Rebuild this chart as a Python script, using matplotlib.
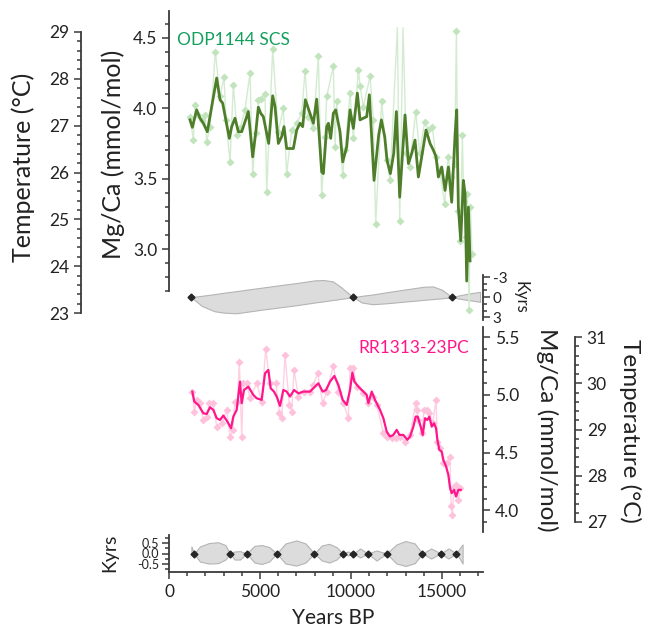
import numpy as np
import matplotlib
matplotlib.use('Agg')
import matplotlib.pyplot as plt
from matplotlib.ticker import FixedLocator, FixedFormatter

# ---------------- data ----------------
# ODP1144 SCS smoothed Mg/Ca (dark green)
odp_yr = [1154, 1282, 1520, 1703, 1886, 2106, 2345, 2619, 2802, 2948,
          3315, 3443, 3626, 3810, 3993, 4359, 4597, 4780, 4908, 5037,
          5183, 5476, 5696, 5824, 6007, 6190, 6319, 6465, 6648, 6832,
          7015, 7198, 7344, 7491, 7930, 8113, 8388, 8480, 8663, 8755,
          8883, 9029, 9157, 9395, 9542, 9762, 9945, 10128, 10348, 10495,
          10678, 10861, 11007, 11264, 11520, 11667, 11850, 11978, 12161, 12344,
          12491, 12674, 12967, 13150, 13333, 13516, 13700, 13883, 14121, 14341,
          14524, 14670, 14799, 14982, 15165, 15348, 15531, 15714, 15806, 15897,
          16026, 16172, 16264, 16355, 16447, 16538]
odp_mg = [3.917, 3.864, 3.988, 3.929, 3.893, 3.833, 4.01, 4.214, 4.06, 4.036,
          3.786, 3.869, 3.929, 3.833, 3.833, 3.976, 3.655, 3.845, 4.007, 3.964,
          3.94, 3.75, 4.088, 4.012, 3.75, 3.798, 3.869, 3.714, 3.714, 3.714,
          3.845, 3.893, 3.869, 4.06, 3.893, 4.064, 3.548, 3.536, 3.869, 3.893,
          3.786, 3.964, 3.988, 3.833, 3.619, 3.726, 3.988, 3.857, 4.107, 3.917,
          3.929, 3.94, 4.095, 3.488, 3.81, 3.917, 3.798, 3.631, 3.536, 3.679,
          3.976, 3.369, 3.952, 3.607, 3.679, 3.774, 3.512, 3.655, 3.845, 3.75,
          3.702, 3.655, 3.512, 3.583, 3.417, 3.583, 3.333, 3.81, 3.988, 3.298,
          3.06, 3.488, 3.393, 2.774, 3.298, 2.917]

# ODP1144 SCS raw Mg/Ca (light green)
odp_raw_yr = [1154, 1337, 1429, 1612, 1795, 1978, 2070, 2253, 2546, 2802,
              3022, 3132, 3352, 3535, 3755, 3901, 4176, 4451, 4597, 4780,
              4908, 5037, 5275, 5366, 5696, 6007, 6282, 6465, 6740, 7015,
              7289, 7473, 7656, 7930, 8205, 8388, 8571, 8663, 9029, 9121,
              9212, 9542, 9670, 9945, 10128, 10403, 10495, 10678, 11044, 11227,
              11355, 11685, 11960, 12143, 12546, 12674, 12857, 13040, 13223, 13553,
              13773, 14048, 14231, 14469, 14652, 14872, 15147, 15330, 15513, 15696,
              15788, 15879, 16007, 16117, 16190, 16300, 16392, 16484, 16557, 16648]
odp_raw_mg = [3.94, 3.774, 4.024, 3.952, 3.917, 3.952, 3.762, 3.869, 4.40, 4.083,
              4.221, 3.917, 3.619, 4.167, 3.81, 3.857, 3.988, 4.25, 3.536, 3.821,
              4.06, 4.064, 4.102, 3.405, 4.417, 3.833, 4.0, 3.536, 3.845, 3.893,
              3.964, 4.262, 3.94, 3.857, 4.369, 3.381, 3.798, 4.083, 4.298, 3.726,
              4.048, 3.524, 3.702, 4.107, 3.786, 4.274, 4.155, 4.012, 4.226, 3.917,
              3.179, 4.048, 3.631, 3.488, 5.0, 3.202, 5.0, 3.679, 3.583, 3.976,
              3.679, 3.905, 3.845, 3.869, 3.655, 3.56, 3.321, 3.655, 3.512, 3.607,
              4.548, 3.274, 3.06, 3.81, 3.345, 3.083, 3.393, 2.57, 3.298, 2.964]

# RR1313-23PC smoothed Mg/Ca (dark pink)
rr_yr = [1282, 1392, 1612, 1886, 2070, 2253, 2436, 2619, 2802, 2985,
         3205, 3407, 3535, 3718, 3901, 3993, 4121, 4359, 4634, 4817,
         5092, 5275, 5458, 5586, 5769, 5916, 6099, 6282, 6465, 6648,
         6868, 7106, 7381, 7747, 7930, 8205, 8443, 8626, 8846, 9084,
         9304, 9542, 9762, 9945, 10073, 10183, 10403, 10678, 10861, 10952,
         11136, 11319, 11594, 11777, 11960, 12143, 12326, 12509, 12656, 12875,
         13095, 13242, 13425, 13553, 13663, 13828, 13938, 14066, 14194, 14304,
         14432, 14561, 14670, 14744, 14853, 14982, 15073, 15220, 15348, 15440,
         15531, 15659, 15769, 15897, 16026]
rr_mg = [5.029, 4.942, 4.913, 4.841, 4.835, 4.893, 4.87, 4.798, 4.783, 4.821,
         4.769, 4.711, 4.812, 4.87, 5.116, 4.928, 5.043, 5.072, 5.0, 4.971,
         4.957, 5.188, 5.217, 5.058, 5.029, 4.986, 4.905, 5.043, 5.029, 4.986,
         5.043, 5.014, 5.029, 5.029, 5.058, 5.101, 5.029, 5.043, 5.116, 5.165,
         5.087, 4.957, 4.913, 5.043, 5.194, 5.116, 5.072, 5.029, 5.0, 4.928,
         5.029, 4.957, 4.87, 4.798, 4.682, 4.639, 4.653, 4.697, 4.653, 4.653,
         4.61, 4.639, 4.725, 4.812, 4.812, 4.725, 4.653, 4.798, 4.783, 4.812,
         4.725, 4.754, 4.711, 4.61, 4.523, 4.509, 4.436, 4.379, 4.306, 4.191,
         4.147, 4.176, 4.118, 4.176, 4.176]

# RR1313-23PC raw Mg/Ca (light pink)
rr_raw_yr = [1282, 1392, 1520, 1703, 1886, 2070, 2216, 2436, 2619, 2894,
             3168, 3352, 3498, 3626, 3755, 3865, 3993, 4084, 4267, 4451,
             4817, 5092, 5312, 5549, 5879, 6062, 6190, 6374, 6612, 6740,
             6868, 7106, 7418, 7747, 7930, 8168, 8443, 8663, 9029, 9304,
             9579, 9853, 9945, 10128, 10311, 10678, 10952, 11190, 11410, 11777,
             11996, 12234, 12473, 12692, 12967, 13242, 13553, 13608, 13700, 13883,
             14011, 14158, 14304, 14487, 14670, 14744, 14890, 15073, 15256, 15440,
             15495, 15568, 15659, 15769, 15897, 15989]
rr_raw_mg = [5.029, 4.855, 4.957, 4.928, 4.783, 4.812, 4.928, 4.928, 4.725, 4.754,
             4.87, 4.639, 4.697, 4.942, 4.942, 5.289, 4.639, 5.101, 5.101, 4.971,
             5.101, 4.942, 5.396, 5.101, 5.101, 4.841, 4.798, 5.347, 4.913, 4.855,
             5.217, 4.986, 5.029, 5.029, 5.087, 5.188, 4.928, 5.029, 5.251, 5.029,
             4.928, 4.798, 5.231, 5.231, 5.072, 5.014, 4.928, 4.986, 4.913, 4.668,
             4.639, 4.624, 4.624, 4.639, 4.595, 4.653, 4.928, 4.87, 4.783, 4.668,
             4.87, 4.87, 4.841, 4.754, 4.957, 4.595, 4.538, 4.408, 4.408, 4.465,
             4.032, 3.96, 4.205, 4.22, 4.09, 4.191]

# ODP1144 age-model envelope (Kyrs)
odp_env_yr = [1210, 1800, 2500, 3000, 3700, 5000, 6000, 7000, 8000, 8500,
              9000, 9400, 9800, 10110, 10600, 11200, 12000, 13000, 14000, 14500,
              15000, 15550, 16000, 16500, 17090]
odp_env_up = [0, -0.2, -0.45, -0.65, -0.9, -1.38, -1.75, -2.1, -2.5, -2.55,
              -2.35, -1.6, -0.7, 0, -0.2, -0.4, -0.75, -1.15, -1.55, -1.6,
              -1.1, 0, -0.3, -0.55, -0.8]
odp_env_lo = [0, 1.3, 2.1, 2.3, 2.4, 1.9, 1.55, 1.2, 0.8, 0.62,
              0.42, 0.28, 0.12, 0, 0.8, 1.05, 0.9, 0.65, 0.4, 0.28,
              0.17, 0, 0.25, 0.45, 0.7]
odp_nodes = [1210, 10110, 15550]

# RR1313-23PC age-model envelope (Kyrs)
rr_env_yr = [1230, 1380, 1700, 2200, 2700, 3100, 3345, 3600, 3900, 4265,
             4700, 5100, 5500, 5920, 6400, 7000, 7500, 7980, 8400, 8800,
             9200, 9540, 9830, 10130, 10500, 10920, 11400, 11950, 12500, 13000,
             13500, 13920, 14400, 14930, 15350, 15790, 16000, 16130]
rr_env_up = [0.35, 0, 0.35, 0.52, 0.56, 0.42, 0, 0.1, 0.12, 0,
             0.38, 0.42, 0.32, 0, 0.5, 0.65, 0.5, 0, 0.4, 0.48,
             0.32, 0, 0.1, 0, 0.25, 0, 0.15, 0, 0.45, 0.62, 0.5, 0,
             0.25, 0, 0.25, 0, 0.3, 0.45]
rr_env_lo = [-0.05, 0, -0.4, -0.5, -0.48, -0.3, 0, -0.3, -0.3, 0,
             -0.45, -0.52, -0.4, 0, -0.5, -0.6, -0.45, 0, -0.35, -0.45,
             -0.3, 0, -0.1, 0, -0.2, 0, -0.35, 0, -0.5, -0.62, -0.48, 0,
             -0.25, 0, -0.25, 0, -0.3, -0.5]
rr_nodes = [1380, 3345, 4265, 5920, 7980, 9540, 10130, 10920, 11950, 13920, 14930, 15790]

x_major = [0, 5000, 10000, 15000]
x_labels = ['0', '5000', '10000', '15000']

# ---------------- figure ----------------
W, H = 649, 634
plt.rcParams['font.family'] = ['Lato', 'DejaVu Sans']
plt.rcParams['axes.unicode_minus'] = False
fig = plt.figure(figsize=(W / 100, H / 100), dpi=100)

def px_axes(l, t, r, b):
    return fig.add_axes([l / W, 1 - b / H, (r - l) / W, (b - t) / H])

def ptext(x, y, s, **kw):
    fig.text(x / W, 1 - y / H, s, **kw)

X0, X1 = 169, 483
XMAX = 17250
AXC = '#3a3a3a'
TXT = '#222222'
TOP_CLIP = 4.57   # data above this run off the top of the plotted area

def style(ax, side):
    ax.patch.set_visible(False)
    for s in ax.spines.values():
        s.set_visible(False)
        s.set_color(AXC)
        s.set_linewidth(1.3)
    if side:
        ax.spines[side].set_visible(True)
    ax.tick_params(which='both', colors=AXC, width=1.1, labelcolor=TXT)
    ax.tick_params(which='major', length=5, labelsize=12.5)
    ax.tick_params(which='minor', length=3)
    ax.set_xticks([])
    if side == 'right':
        ax.yaxis.tick_right()

# --- top panel (ODP1144) ---
ax1 = px_axes(X0, 10.9, X1, 319.7)
style(ax1, 'left')
ax1.set_xlim(0, XMAX)
ax1.set_ylim(2.5, 4.69)
ax1.spines['left'].set_bounds(2.70, 4.69)
ax1.yaxis.set_major_locator(FixedLocator([3.0, 3.5, 4.0, 4.5]))
ax1.yaxis.set_major_formatter(FixedFormatter(['3.0', '3.5', '4.0', '4.5']))
ax1.yaxis.set_minor_locator(FixedLocator(np.arange(2.7, 4.69, 0.1)))
ax1.set_zorder(3)

raw_y = np.asarray(odp_raw_mg, dtype=float)
line_y = np.minimum(raw_y, TOP_CLIP)          # spikes end at the top of the plot area
mark_y = np.ma.masked_greater(raw_y, TOP_CLIP)  # no marker for off-scale spikes
ax1.plot(odp_raw_yr, line_y, color='#d3ecd0', lw=1.0, zorder=2)
ax1.plot(odp_raw_yr, mark_y, ls='none', marker='D', ms=4.2,
         mfc='#c2e4bd', mec='none', zorder=2)
ax1.plot(odp_yr, odp_mg, color='#4f7e2b', lw=2.0, zorder=3, solid_joinstyle='round')
ptext(177, 40, 'ODP1144 SCS', color='#12a05c', fontsize=12.5, va='center', ha='left')

# top-left temperature axis
axT = px_axes(81, 32, 95, 313)
style(axT, 'left')
axT.set_ylim(23, 29)
axT.yaxis.set_major_locator(FixedLocator([23, 24, 25, 26, 27, 28, 29]))
axT.yaxis.set_minor_locator(FixedLocator(np.arange(23, 29.01, 0.2)))

ptext(23, 167, 'Temperature (°C)', rotation=90, fontsize=18, ha='center', va='center', color=TXT)
ptext(113, 154, 'Mg/Ca (mmol/mol)', rotation=90, fontsize=18, ha='center', va='center', color=TXT)

# top age envelope
axW1 = px_axes(X0, 275, X1, 320)
style(axW1, 'right')
axW1.set_xlim(0, XMAX)
axW1.set_ylim(3.4, -3.3)
axW1.yaxis.set_major_locator(FixedLocator([-3, 0, 3]))
axW1.yaxis.set_major_formatter(FixedFormatter(['-3', '0', '3']))
axW1.yaxis.set_minor_locator(FixedLocator([-2, -1, 1, 2]))
axW1.tick_params(which='major', labelsize=11, pad=2)
axW1.fill_between(odp_env_yr, odp_env_up, odp_env_lo, facecolor='#dcdcdc',
                  edgecolor='#b4b4b4', lw=0.8)
axW1.plot(odp_nodes, [0] * len(odp_nodes), 'D', color='#262626', ms=3.5)
axW1.set_zorder(2)
ptext(521, 297, 'Kyrs', rotation=-90, fontsize=12, ha='center', va='center', color=TXT)

# --- lower panel (RR1313) ---
axP = px_axes(X0, 327, X1, 532)
style(axP, 'right')
axP.set_xlim(0, XMAX)
axP.set_ylim(3.81, 5.59)
axP.yaxis.set_major_locator(FixedLocator([4.0, 4.5, 5.0, 5.5]))
axP.yaxis.set_major_formatter(FixedFormatter(['4.0', '4.5', '5.0', '5.5']))
axP.yaxis.set_minor_locator(FixedLocator(np.arange(3.9, 5.59, 0.1)))
axP.plot(rr_raw_yr, rr_raw_mg, color='#ffd0e4', lw=1.0, marker='D', ms=4.2,
         mfc='#ffc2dc', mec='none', zorder=2)
axP.plot(rr_yr, rr_mg, color='#ff168a', lw=1.6, zorder=3, solid_joinstyle='round')
ptext(358, 348, 'RR1313-23PC', color='#ff168a', fontsize=12.5, va='center', ha='left')

axRT = px_axes(560, 337, 575, 522)
style(axRT, 'right')
axRT.set_ylim(27, 31)
axRT.yaxis.set_major_locator(FixedLocator([27, 28, 29, 30, 31]))
axRT.yaxis.set_minor_locator(FixedLocator(np.arange(27, 31.01, 0.2)))

ptext(547, 430, 'Mg/Ca (mmol/mol)', rotation=-90, fontsize=17.5, ha='center', va='center', color=TXT)
ptext(630, 431, 'Temperature (°C)', rotation=-90, fontsize=17.5, ha='center', va='center', color=TXT)

# bottom age envelope + x axis
axW2 = px_axes(X0, 535, X1, 572)
style(axW2, 'left')
axW2.spines['bottom'].set_visible(True)
axW2.set_xlim(0, XMAX)
axW2.set_ylim(-0.92, 0.92)
axW2.yaxis.set_major_locator(FixedLocator([-0.5, 0.0, 0.5]))
axW2.yaxis.set_major_formatter(FixedFormatter(['-0.5', '0.0', '0.5']))
axW2.yaxis.set_minor_locator(FixedLocator([-0.75, -0.25, 0.25, 0.75]))
axW2.tick_params(axis='y', which='major', labelsize=9, pad=2)
axW2.xaxis.set_major_locator(FixedLocator(x_major))
axW2.xaxis.set_major_formatter(FixedFormatter(x_labels))
axW2.xaxis.set_minor_locator(FixedLocator(np.arange(1000, 17001, 1000)))
axW2.tick_params(axis='x', which='major', labelsize=12.5, length=5)
axW2.fill_between(rr_env_yr, rr_env_up, rr_env_lo, facecolor='#dcdcdc',
                  edgecolor='#b4b4b4', lw=0.8)
axW2.plot(rr_nodes, [0] * len(rr_nodes), 'D', color='#262626', ms=3.5)
ptext(110, 553, 'Kyrs', rotation=90, fontsize=14, ha='center', va='center', color=TXT)
ptext(333, 618, 'Years BP', fontsize=15, ha='center', va='center', color=TXT)

fig.savefig('out.png', dpi=100)
